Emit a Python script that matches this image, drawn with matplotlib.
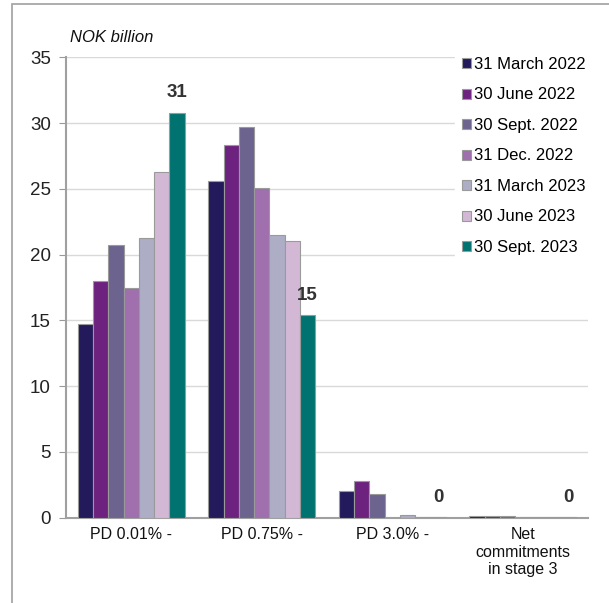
import numpy as np
import matplotlib
matplotlib.use("Agg")
import matplotlib.pyplot as plt
from matplotlib.patches import Rectangle

plt.rcParams['font.family'] = ['Liberation Sans', 'DejaVu Sans']

categories = ["PD 0.01% -", "PD 0.75% -", "PD 3.0% -", "Net\ncommitments\nin stage 3"]
periods = ["31 March 2022", "30 June 2022", "30 Sept. 2022", "31 Dec. 2022",
           "31 March 2023", "30 June 2023", "30 Sept. 2023"]

mar22 = [14.7, 25.6, 2.05, 0.10]
jun22 = [18.0, 28.35, 2.8, 0.15]
sep22 = [20.7, 29.7, 1.8, 0.15]
dec22 = [17.5, 25.1, 0.0, 0.05]
mar23 = [21.3, 21.5, 0.2, 0.05]
jun23 = [26.3, 21.0, 0.05, 0.03]
sep23 = [30.8, 15.4, 0.05, 0.03]

colors = ["#231a5c", "#6e2280", "#6c648f", "#a06fad", "#adadc6", "#d3b8d6", "#007370"]

series = [mar22, jun22, sep22, dec22, mar23, jun23, sep23]

fig = plt.figure(figsize=(6.09, 6.03), dpi=100)
# outer frame, only left and top edges fall inside the image
fig.patches.append(Rectangle((12 / 609, -0.1), 1.2, 1.1 - 4 / 603,
                             transform=fig.transFigure, fill=False,
                             edgecolor="#a0a0a0", linewidth=1.2))

ax = fig.add_axes([66 / 609, 1 - 517.7 / 603, (588 - 66) / 609, (517.7 - 57.3) / 603])

x = np.arange(len(categories))
w = 0.117
for i, (vals, c, lab) in enumerate(zip(series, colors, periods)):
    ax.bar(x + (i - 3) * w, vals, width=w, color=c, edgecolor="#9a9a9a",
           linewidth=0.8, label=lab, zorder=3)

# value labels on the latest period
for xi, v in zip(x, sep23):
    ax.annotate(f"{v:.0f}", (xi + 3 * w, v), xytext=(0, 8), textcoords="offset points",
                ha="center", va="bottom", fontsize=13.5, fontweight="bold", color="#333333")

ax.set_xlim(-0.5, 3.5)
ax.set_ylim(0, 35)
ax.set_yticks(range(0, 36, 5))
ax.set_xticks(x)
ax.set_xticklabels(categories, fontsize=11.5, color="#111111")
ax.tick_params(axis="x", length=0, pad=7)
ax.tick_params(axis="y", length=5, color="#999999", labelsize=13.5, labelcolor="#222222", pad=6)
ax.grid(axis="y", color="#d9d9d9", linewidth=1, zorder=0)
for s in ["top", "right"]:
    ax.spines[s].set_visible(False)
for s in ["left", "bottom"]:
    ax.spines[s].set_color("#a0a0a0")
    ax.spines[s].set_linewidth(1.5)

ax.text(4 / 522, 1 + 20 / 460, "NOK billion", transform=ax.transAxes, fontsize=12,
        style="italic", color="#111111", va="center")

leg = ax.legend(loc="upper left", bbox_to_anchor=((455 - 66) / 522, 1 + 7 / 460), frameon=True,
                fontsize=12, handlelength=0.55, handleheight=0.55, handletextpad=0.2,
                labelspacing=0.93, borderpad=0.4, borderaxespad=0)
leg.get_frame().set_facecolor("white")
leg.get_frame().set_edgecolor("white")
leg.get_frame().set_alpha(1)
leg.set_zorder(5)

fig.savefig("out.png", dpi=100)
